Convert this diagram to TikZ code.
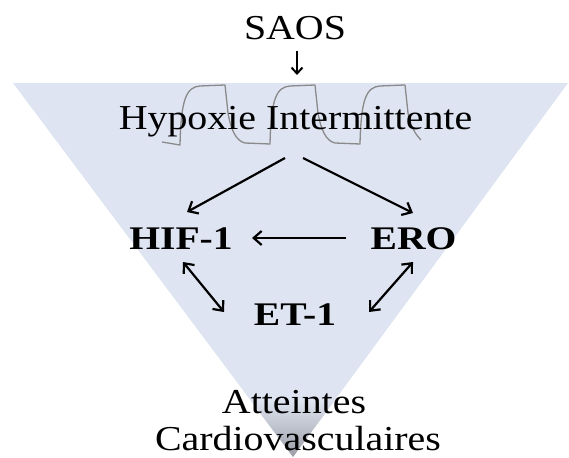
\documentclass[tikz,border=0pt]{standalone}
\usepackage{fontspec}
\usepackage{graphicx}
\setmainfont{Liberation Serif}
\usetikzlibrary{arrows.meta}
\definecolor{tri}{HTML}{DEE4F1}
\definecolor{apexgray}{HTML}{9C9EA6}
\definecolor{wave}{HTML}{8A8A8A}
\tikzset{
  reg/.style={anchor=base, inner sep=0pt, font=\fontsize{35}{40}\selectfont},
  bld/.style={anchor=base, inner sep=0pt, font=\fontsize{33}{38}\selectfont\bfseries},
  barb/.style={Straight Barb[length=8pt,width=14pt,line width=2.2pt]},
  arr/.style={line width=2.2pt, -{Straight Barb[length=8pt,width=14pt,line width=2.2pt]}},
  darr/.style={line width=2.2pt, {Straight Barb[length=8pt,width=14pt,line width=2.2pt]}-{Straight Barb[length=8pt,width=14pt,line width=2.2pt]}},
  sarr/.style={line width=2pt, -{Straight Barb[length=6pt,width=11pt,line width=2pt]}},
}
\newcommand{\wide}[1]{\scalebox{1.14}[1]{#1}}
\begin{document}
\begin{tikzpicture}[x=1pt,y=-1pt]
\useasboundingbox (0,0) rectangle (569,457);
% inverted triangle
\begin{scope}
  \clip (13,83) -- (568,83) -- (293,457) -- cycle;
  \fill[tri] (0,83) rectangle (569,457);
  \shade[top color=tri, bottom color=apexgray] (150,400) rectangle (430,457);
\end{scope}
% intermittent hypoxia wave
\draw[wave, line width=1.3pt, line join=round]
  (162,142) -- (180,145)
  .. controls (181,100) and (186,87) .. (200,86) -- (225,85)
  -- (228,113) .. controls (231,130) and (236,141) .. (245,143) -- (270,144)
  .. controls (271,100) and (276,87) .. (290,86) -- (315,85)
  -- (318,113) .. controls (321,130) and (326,141) .. (335,143) -- (360,144)
  .. controls (361,100) and (366,87) .. (380,86) -- (405,85)
  -- (408,113) .. controls (410,125) and (415,134) .. (421,140);
% texts
\node[reg] (saos) at (295,40) {\wide{SAOS}};
\node[reg] (hyp) at (295.5,130) {\wide{Hypoxie Intermittente}};
\node[bld] (hif) at (181,249) {\scalebox{1.2}[1]{HIF-1}};
\node[bld] (ero) at (413.5,249) {\scalebox{1.2}[1]{ERO}};
\node[bld] (et) at (295,325) {\scalebox{1.2}[1]{ET-1}};
\node[reg] (att) at (294,413) {\wide{Atteintes}};
\node[reg] (cardio) at (298,450) {\wide{Cardiovasculaires}};
% connector end points
\coordinate (saosS) at (297,51);
\coordinate (hypN) at (297,75);
\coordinate (hypL) at (285,158);
\coordinate (hypR) at (303,158);
\coordinate (hifN) at (187,212);
\coordinate (eroN) at (413,213);
\coordinate (eroW) at (346,238);
\coordinate (hifE) at (252,238);
\coordinate (hifS) at (183,262);
\coordinate (etW) at (224,312);
\coordinate (eroS) at (413,262);
\coordinate (etE) at (369,312);
% connectors
\draw[sarr] (saosS) -- (hypN);
\draw[arr] (hypL) -- (hifN);
\draw[arr] (hypR) -- (eroN);
\draw[arr] (eroW) -- (hifE);
\draw[darr] (hifS) -- (etW);
\draw[darr] (eroS) -- (etE);
\end{tikzpicture}
\end{document}
